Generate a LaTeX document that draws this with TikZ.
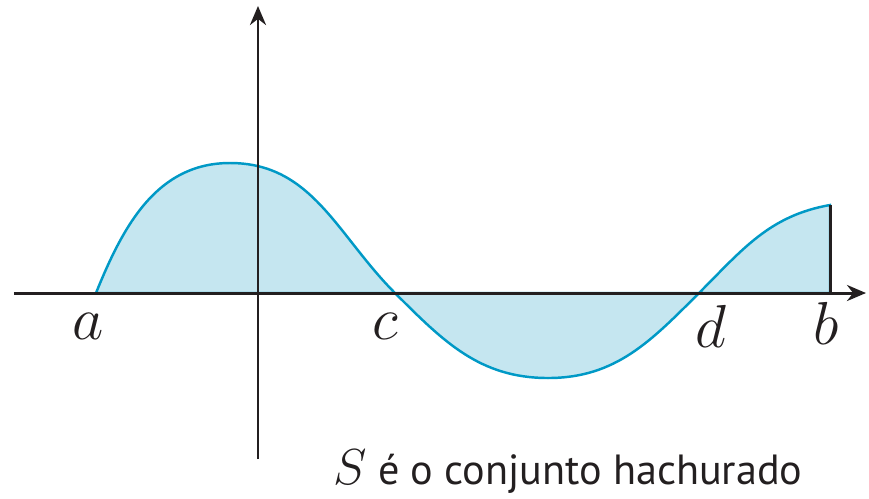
\documentclass[tikz,border=0pt]{standalone}
\usepackage{fontspec}
\setmainfont{PT Sans}
\usetikzlibrary{arrows.meta,calc}
\definecolor{areafill}{RGB}{197,230,240}
\definecolor{curveblue}{RGB}{0,153,198}
\definecolor{axisblack}{RGB}{35,31,32}

\tikzset{
  axis/.style={line width=0.85pt, axisblack, -{Stealth[length=1.9mm,width=1.6mm]}},
  ptlabel/.style={font=\fontsize{16}{19}\selectfont, axisblack, inner sep=0pt},
}

\begin{document}
\begin{tikzpicture}

\useasboundingbox (-2.58,-2.05) rectangle (6.11,2.93);

% Points on the x-axis
\coordinate (a) at (-1.62,0);
\coordinate (c) at (1.37,0);
\coordinate (d) at (4.41,0);
\coordinate (b) at (5.72,0);
% Top and bottom of the wave
\coordinate (top) at (-0.28,1.30);
\coordinate (bottom) at (2.90,-0.85);
\coordinate (btop) at (5.72,0.88);

% Shaded set S and its boundary curve
\path[fill=areafill, draw=curveblue, line width=0.7pt]
  (a) to[out=68, in=180] (top)
      to[out=0, in=135] (c)
      to[out=-45, in=180] (bottom)
      to[out=0, in=225] (d)
      to[out=45, in=190] (btop)
  -- (b) -- cycle;
\draw[line width=0.85pt, axisblack] (b) -- (btop);

% Axes
\draw[axis] (-2.44,0) -- (6.08,0);
\draw[axis] (0,-1.66) -- (0,2.87);

% Labels
\node[ptlabel] (la) at (-1.70,-0.33) {$a$};
\node[ptlabel] (lc) at (1.27,-0.33) {$c$};
\node[ptlabel] (ld) at (4.53,-0.33) {$d$};
\node[ptlabel] (lb) at (5.68,-0.30) {$b$};

\node[font=\fontsize{12}{15}\selectfont, axisblack, inner sep=0pt] (caption) at (3.10,-1.79)
  {{\fontsize{14.5}{17}\selectfont$S$} é o conjunto hachurado};

\end{tikzpicture}
\end{document}
